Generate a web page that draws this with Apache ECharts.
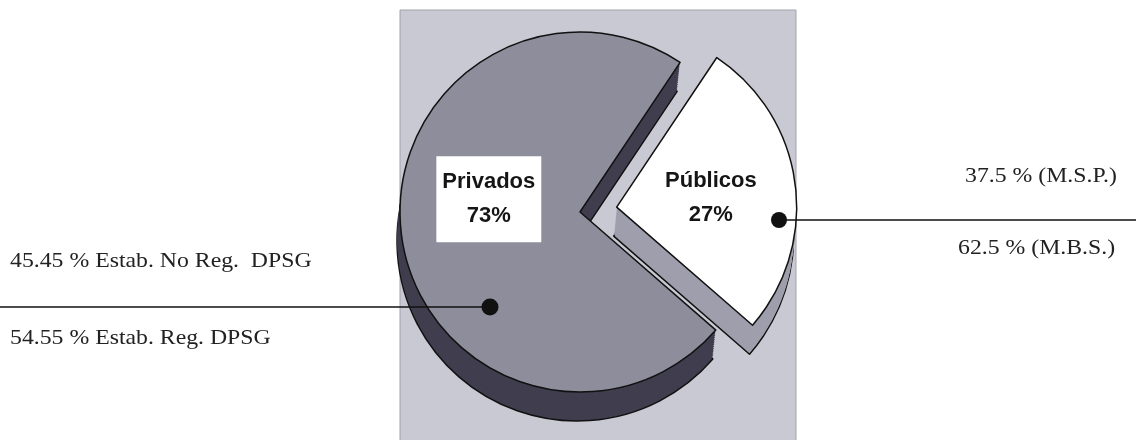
<!DOCTYPE html>
<html><head><meta charset="utf-8">
<script src="https://cdn.jsdelivr.net/npm/echarts@6/dist/echarts.min.js"></script>
<style>html,body{margin:0;padding:0;background:#fff}#c{width:1138px;height:440px}</style>
</head><body><div id="c"></div>
<script>
// ---- data ----
const categories = ['Privados', 'Públicos'];
const shares = [73, 27];
const privadosNotes = ['45.45 % Estab. No Reg.  DPSG', '54.55 % Estab. Reg. DPSG'];
const publicosNotes = ['37.5 % (M.S.P.)', '62.5 % (M.B.S.)'];

// ---- layout / style ----
const C = [580, 212], R = 180, START = 319, EXPLODE = 37;
const topColors = ['#8d8d9c', '#ffffff'];
const sideColors = ['#403e4e', '#9e9eac'];
const DEPTH_X = -3, DEPTH_Y = 29, LAYERS = 16;

function pieData(colors, top) {
  return categories.map((name, i) => {
    const d = { name, value: shares[i], selected: i === 1, itemStyle: { color: colors[i] } };
    if (top && i === 0) d.label = { backgroundColor: '#ffffff', padding: [10, 6, 8, 6] };
    return d;
  });
}

const series = [];
for (let k = LAYERS; k >= 1; k--) {
  series.push({
    type: 'pie', silent: true, animation: false,
    center: [C[0] + DEPTH_X * k / LAYERS, C[1] + DEPTH_Y * k / LAYERS],
    radius: R, startAngle: START, clockwise: true,
    selectedMode: 'single', selectedOffset: EXPLODE,
    label: { show: false }, labelLine: { show: false },
    emphasis: { disabled: true },
    itemStyle: k === LAYERS ? { borderColor: '#111', borderWidth: 1.5 } : { borderWidth: 0 },
    data: pieData(sideColors, false)
  });
}
series.push({
  type: 'pie', silent: true, animation: false,
  center: C, radius: R, startAngle: START, clockwise: true,
  selectedMode: 'single', selectedOffset: EXPLODE,
  percentPrecision: 0,
  emphasis: { disabled: true },
  itemStyle: { borderColor: '#111', borderWidth: 1.5 },
  label: {
    show: true, position: 'inside', formatter: '{b}\n{d}%',
    fontFamily: 'Liberation Sans', fontWeight: 'bold', fontSize: 22, lineHeight: 34,
    color: '#151515'
  },
  labelLine: { show: false },
  labelLayout: p => (p.dataIndex === 0 ? { dy: -25, dx: 1 } : { dy: 3, dx: 2 }),
  data: pieData(topColors, true)
});

const serif = '22px "Liberation Serif", "Times New Roman", serif';
function note(text, x, y) {
  return { type: 'text', z: 100, x, y, scaleX: 1.08,
    style: { text, font: serif, fill: '#222', textVerticalAlign: 'middle' } };
}
const graphic = [
  { type: 'rect', z: -10, shape: { x: 400, y: 10, width: 396, height: 440 },
    style: { fill: '#c9c9d3', stroke: '#a2a2ac', lineWidth: 1 } },
  { type: 'line', z: 100, shape: { x1: 0, y1: 307, x2: 490, y2: 307 }, style: { stroke: '#111', lineWidth: 1.5 } },
  { type: 'circle', z: 101, shape: { cx: 490, cy: 307, r: 8.5 }, style: { fill: '#111' } },
  { type: 'line', z: 100, shape: { x1: 779, y1: 220, x2: 1136, y2: 220 }, style: { stroke: '#111', lineWidth: 1.5 } },
  { type: 'circle', z: 101, shape: { cx: 779, cy: 220, r: 8 }, style: { fill: '#111' } },
  note(privadosNotes[0], 10, 261),
  note(privadosNotes[1], 10, 338),
  note(publicosNotes[0], 965, 176),
  note(publicosNotes[1], 958, 248)
];

const chart = echarts.init(document.getElementById('c'), null, { renderer: 'canvas' });
chart.setOption({ backgroundColor: '#ffffff', animation: false, graphic, series });
</script>
</body></html>
